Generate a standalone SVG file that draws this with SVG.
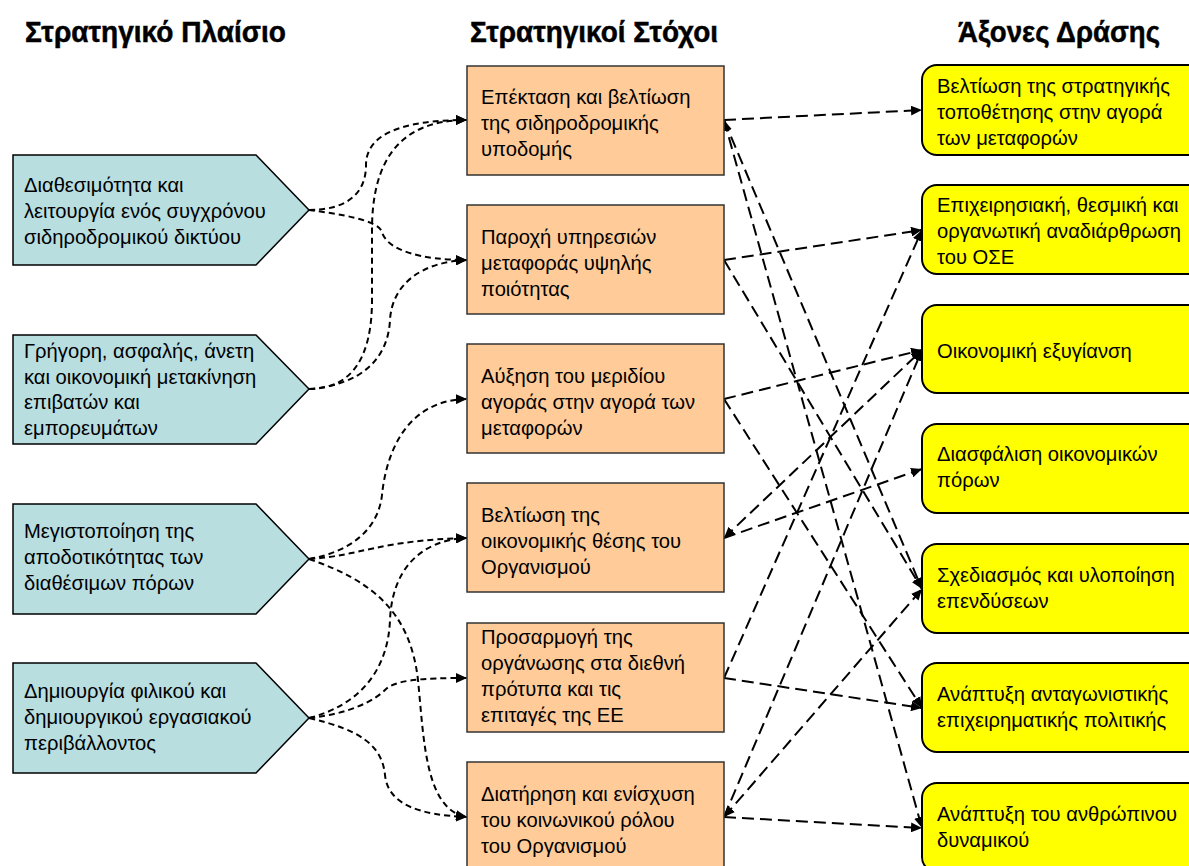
<svg xmlns="http://www.w3.org/2000/svg" width="1189" height="866" viewBox="0 0 1189 866">
  <style>
    .title { font-family: "Liberation Sans", Arial, sans-serif; font-weight: bold; font-size: 30px; fill: #000; stroke: #000; stroke-width: 0.5; }
    .lbl { font-family: "Liberation Sans", Arial, sans-serif; font-size: 20.2px; fill: #000; }
    .frame { fill: #B8DEE0; stroke: #000; stroke-width: 1.5; }
    .goal { fill: #FFCC99; stroke: #333; stroke-width: 1.5; }
    .axis { fill: #FFFF00; stroke: #000; stroke-width: 2; }
    .curve { fill: none; stroke: #000; stroke-width: 2; stroke-dasharray: 6 4; marker-end: url(#arrow); }
    .link { fill: none; stroke: #000; stroke-width: 2; stroke-dasharray: 12 6; marker-end: url(#arrow); }
    .both { marker-start: url(#arrowStart); }
  </style>
  <defs>
    <marker id="arrow" markerUnits="userSpaceOnUse" markerWidth="12" markerHeight="10" refX="11" refY="5" orient="auto">
      <path d="M0,0 L11,5 L0,10 z" fill="#000"/>
    </marker>
    <marker id="arrowStart" markerUnits="userSpaceOnUse" markerWidth="12" markerHeight="10" refX="11" refY="5" orient="auto-start-reverse">
      <path d="M0,0 L11,5 L0,10 z" fill="#000"/>
    </marker>
  </defs>

  <rect x="0" y="0" width="1189" height="866" fill="#fff"/>

  <!-- column headings -->
  <g id="headings">
    <text class="title" x="25" y="42" textLength="261" lengthAdjust="spacingAndGlyphs">Στρατηγικό Πλαίσιο</text>
    <text class="title" x="470" y="42" textLength="248" lengthAdjust="spacingAndGlyphs">Στρατηγικοί Στόχοι</text>
    <text class="title" x="958" y="42" textLength="202" lengthAdjust="spacingAndGlyphs">Άξονες Δράσης</text>
  </g>

  <!-- connectors -->
  <g id="connectors">
    <!-- framework to goals -->
    <path class="curve" d="M309,210 C345,210 366,195 366,165 C366,135 400,120 467,120"/>
    <path class="curve" d="M309,210 C340,214 378,220 382,232 C387,250 420,260 467,260"/>
    <path class="curve" d="M309,389 C350,389 372,360 372,300 L372,230 C372,160 400,120 467,120"/>
    <path class="curve" d="M309,389 C360,385 388,360 390,320 C392,285 420,262 467,260"/>
    <path class="curve" d="M309,559 C350,552 378,530 382,495 C386,455 405,400 467,399"/>
    <path class="curve" d="M309,559 C360,556 380,540 467,538"/>
    <path class="curve" d="M309,559 C370,580 410,610 418,680 C424,740 425,810 467,817"/>
    <path class="curve" d="M309,718 C360,705 388,670 390,620 C392,570 420,540 467,538"/>
    <path class="curve" d="M309,718 C350,714 375,700 385,690 C395,680 420,678 467,678"/>
    <path class="curve" d="M309,718 C360,730 382,745 385,775 C388,805 420,815 467,817"/>

    <!-- goals to action axes -->
    <line class="link" x1="724" y1="120" x2="922" y2="110"/>
    <line class="link" x1="724" y1="120" x2="922" y2="589"/>
    <line class="link both" x1="724" y1="120" x2="922" y2="828"/>
    <line class="link" x1="724" y1="260" x2="922" y2="230"/>
    <line class="link" x1="724" y1="260" x2="922" y2="589"/>
    <line class="link" x1="724" y1="399" x2="922" y2="350"/>
    <line class="link" x1="724" y1="399" x2="922" y2="708"/>
    <line class="link" x1="724" y1="538" x2="922" y2="469"/>
    <line class="link both" x1="724" y1="538" x2="922" y2="350"/>
    <line class="link" x1="724" y1="678" x2="922" y2="708"/>
    <line class="link" x1="724" y1="678" x2="922" y2="230"/>
    <line class="link" x1="724" y1="817" x2="922" y2="828"/>
    <line class="link" x1="724" y1="817" x2="922" y2="350"/>
    <line class="link both" x1="724" y1="817" x2="922" y2="589"/>
  </g>

  <!-- strategic framework -->
  <g id="frame1">
    <polygon class="frame" points="13,155 256,155 309,210 256,265 13,265"/>
    <text class="lbl" x="24" y="192">Διαθεσιμότητα και</text>
    <text class="lbl" x="24" y="218">λειτουργία ενός συγχρόνου</text>
    <text class="lbl" x="24" y="244">σιδηροδρομικού δικτύου</text>
  </g>
  <g id="frame2">
    <polygon class="frame" points="13,335 256,335 309,389 256,444 13,444"/>
    <text class="lbl" x="24" y="358">Γρήγορη, ασφαλής, άνετη</text>
    <text class="lbl" x="24" y="384">και οικονομική μετακίνηση</text>
    <text class="lbl" x="24" y="409">επιβατών και</text>
    <text class="lbl" x="24" y="435">εμπορευμάτων</text>
  </g>
  <g id="frame3">
    <polygon class="frame" points="13,504 256,504 309,559 256,614 13,614"/>
    <text class="lbl" x="24" y="538">Μεγιστοποίηση της</text>
    <text class="lbl" x="24" y="564">αποδοτικότητας των</text>
    <text class="lbl" x="24" y="590">διαθέσιμων πόρων</text>
  </g>
  <g id="frame4">
    <polygon class="frame" points="13,663 256,663 309,718 256,773 13,773"/>
    <text class="lbl" x="24" y="698">Δημιουργία φιλικού και</text>
    <text class="lbl" x="24" y="724">δημιουργικού εργασιακού</text>
    <text class="lbl" x="24" y="750">περιβάλλοντος</text>
  </g>

  <!-- strategic goals -->
  <g id="goal1">
    <rect class="goal" x="467" y="66" width="257" height="109"/>
    <text class="lbl" x="481" y="104">Επέκταση και βελτίωση</text>
    <text class="lbl" x="481" y="130">της σιδηροδρομικής</text>
    <text class="lbl" x="481" y="156">υποδομής</text>
  </g>
  <g id="goal2">
    <rect class="goal" x="467" y="205" width="257" height="109"/>
    <text class="lbl" x="481" y="244">Παροχή υπηρεσιών</text>
    <text class="lbl" x="481" y="270">μεταφοράς υψηλής</text>
    <text class="lbl" x="481" y="296">ποιότητας</text>
  </g>
  <g id="goal3">
    <rect class="goal" x="467" y="344" width="257" height="109"/>
    <text class="lbl" x="481" y="383">Αύξηση του μεριδίου</text>
    <text class="lbl" x="481" y="409">αγοράς στην αγορά των</text>
    <text class="lbl" x="481" y="435">μεταφορών</text>
  </g>
  <g id="goal4">
    <rect class="goal" x="467" y="483" width="257" height="109"/>
    <text class="lbl" x="481" y="522">Βελτίωση της</text>
    <text class="lbl" x="481" y="548">οικονομικής θέσης του</text>
    <text class="lbl" x="481" y="574">Οργανισμού</text>
  </g>
  <g id="goal5">
    <rect class="goal" x="467" y="623" width="257" height="109"/>
    <text class="lbl" x="481" y="644">Προσαρμογή της</text>
    <text class="lbl" x="481" y="670">οργάνωσης στα διεθνή</text>
    <text class="lbl" x="481" y="696">πρότυπα και τις</text>
    <text class="lbl" x="481" y="722">επιταγές της ΕΕ</text>
  </g>
  <g id="goal6">
    <rect class="goal" x="467" y="762" width="257" height="109"/>
    <text class="lbl" x="481" y="801">Διατήρηση και ενίσχυση</text>
    <text class="lbl" x="481" y="827">του κοινωνικού ρόλου</text>
    <text class="lbl" x="481" y="853">του Οργανισμού</text>
  </g>

  <!-- action axes -->
  <g id="axis1">
    <rect class="axis" x="922" y="65" width="290" height="90" rx="15"/>
    <text class="lbl" x="937" y="93">Βελτίωση της στρατηγικής</text>
    <text class="lbl" x="937" y="119">τοποθέτησης στην αγορά</text>
    <text class="lbl" x="937" y="145">των μεταφορών</text>
  </g>
  <g id="axis2">
    <rect class="axis" x="922" y="185" width="290" height="89" rx="15"/>
    <text class="lbl" x="937" y="212">Επιχειρησιακή, θεσμική και</text>
    <text class="lbl" x="937" y="238">οργανωτική αναδιάρθρωση</text>
    <text class="lbl" x="937" y="264">του ΟΣΕ</text>
  </g>
  <g id="axis3">
    <rect class="axis" x="922" y="305" width="290" height="88" rx="15"/>
    <text class="lbl" x="937" y="358">Οικονομική εξυγίανση</text>
  </g>
  <g id="axis4">
    <rect class="axis" x="922" y="424" width="290" height="89" rx="15"/>
    <text class="lbl" x="937" y="461">Διασφάλιση οικονομικών</text>
    <text class="lbl" x="937" y="487">πόρων</text>
  </g>
  <g id="axis5">
    <rect class="axis" x="922" y="544" width="290" height="89" rx="15"/>
    <text class="lbl" x="937" y="582">Σχεδιασμός και υλοποίηση</text>
    <text class="lbl" x="937" y="608">επενδύσεων</text>
  </g>
  <g id="axis6">
    <rect class="axis" x="922" y="663" width="290" height="89" rx="15"/>
    <text class="lbl" x="937" y="701">Ανάπτυξη ανταγωνιστικής</text>
    <text class="lbl" x="937" y="727">επιχειρηματικής πολιτικής</text>
  </g>
  <g id="axis7">
    <rect class="axis" x="922" y="783" width="290" height="89" rx="15"/>
    <text class="lbl" x="937" y="821">Ανάπτυξη του ανθρώπινου</text>
    <text class="lbl" x="937" y="847">δυναμικού</text>
  </g>
</svg>
